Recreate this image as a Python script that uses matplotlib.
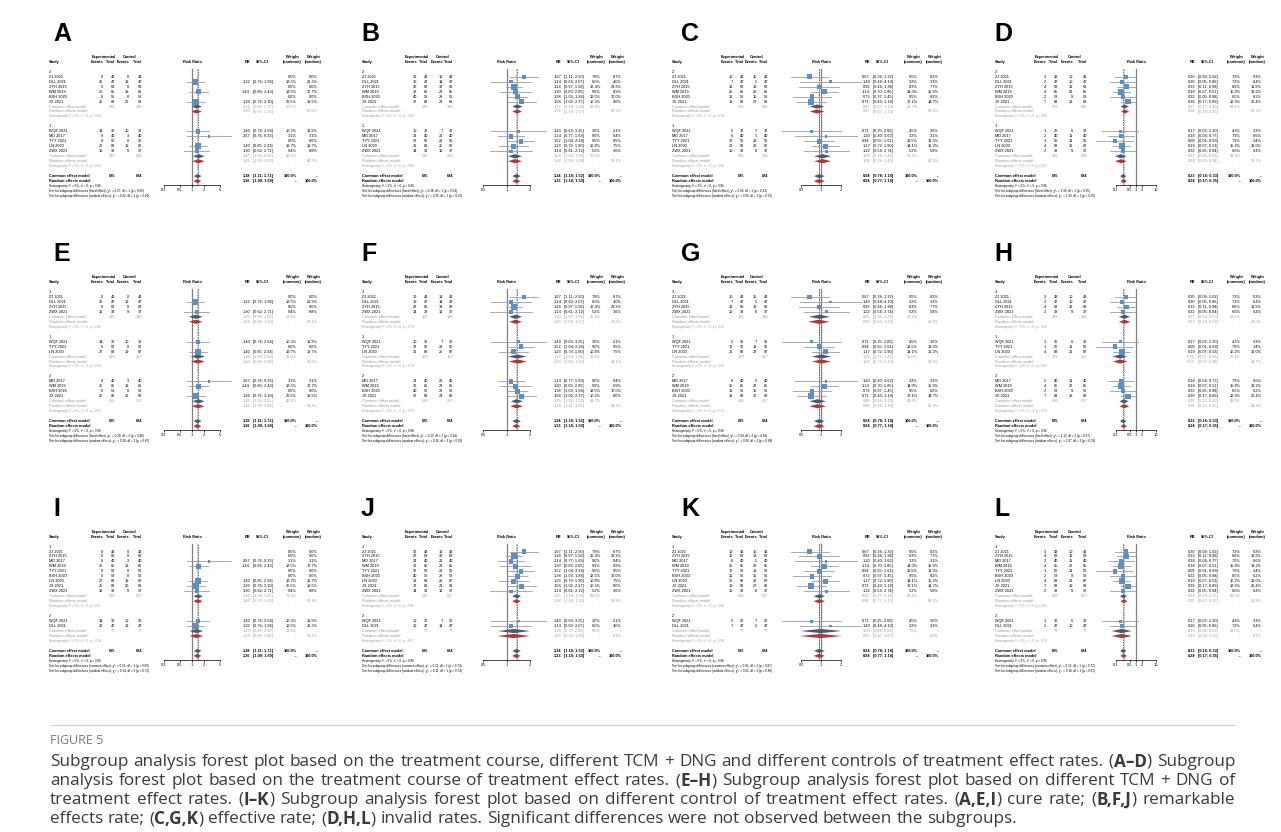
import matplotlib
matplotlib.use("Agg")
import matplotlib.pyplot as plt
import numpy as np
from matplotlib.ticker import NullLocator

plt.rcParams['font.family'] = ['Liberation Sans', 'DejaVu Sans']

# ------------------------------------------------------------------ data
studies = ["ZJ 2021", "DLL 2021", "ZYH 2015", "WM 2019", "BXH 2020", "JX 2021",
           "WQF 2021", "MD 2017", "TYY 2021", "LN 2020", "ZWX 2021"]
exp_total = [43, 47, 63, 85, 53, 88, 30, 40, 50, 88, 38]
ctrl_total = [43, 47, 63, 85, 53, 89, 30, 40, 50, 87, 37]

# cure rate
cure_exp = [0, 22, 0, 26, 0, 25, 14, 8, 0, 27, 12]
cure_ctrl = [0, 18, 0, 18, 0, 20, 10, 3, 0, 19, 9]
cure_rr = [None, 1.22, None, 1.44, None, 1.26, 1.40, 2.67, None, 1.40, 1.30]
cure_lo = [None, 0.76, None, 0.86, None, 0.76, 0.74, 0.76, None, 0.85, 0.62]
cure_hi = [None, 1.96, None, 2.43, None, 2.10, 2.64, 9.33, None, 2.33, 2.71]
cure_wc = [0.0, 18.5, 0.0, 18.5, 0.0, 20.5, 10.3, 3.1, 0.0, 19.7, 9.4]
cure_wr = [0.0, 21.3, 0.0, 17.7, 0.0, 18.5, 11.9, 3.1, 0.0, 18.7, 8.8]
cure_overall = [1.38, 1.11, 1.72, 1.36, 1.09, 1.69, "0.96"]

# remarkable effect rate
rem_exp = [30, 16, 47, 30, 40, 37, 10, 24, 32, 31, 14]
rem_ctrl = [18, 14, 38, 23, 29, 24, 7, 21, 21, 25, 12]
rem_rr = [1.67, 1.14, 1.24, 1.30, 1.38, 1.56, 1.43, 1.14, 1.52, 1.23, 1.14]
rem_lo = [1.11, 0.63, 0.97, 0.83, 1.03, 1.02, 0.63, 0.77, 1.04, 0.79, 0.61]
rem_hi = [2.50, 2.07, 1.58, 2.05, 1.84, 2.37, 3.25, 1.69, 2.24, 1.90, 2.12]
rem_wc = [7.8, 6.0, 16.4, 9.9, 12.5, 10.3, 3.0, 9.0, 9.0, 10.8, 5.2]
rem_wr = [8.7, 4.0, 23.3, 6.9, 17.0, 8.0, 2.1, 9.4, 9.5, 7.5, 3.6]
rem_overall = [1.34, 1.18, 1.52, 1.33, 1.18, 1.50, "0.88"]

# effective rate
eff_exp = [10, 7, 12, 25, 11, 19, 5, 6, 17, 26, 10]
eff_ctrl = [15, 5, 13, 22, 15, 27, 7, 5, 18, 22, 8]
eff_rr = [0.67, 1.40, 0.92, 1.14, 0.73, 0.71, 0.71, 1.20, 0.94, 1.17, 1.22]
eff_lo = [0.34, 0.48, 0.46, 0.70, 0.37, 0.43, 0.25, 0.40, 0.55, 0.72, 0.54]
eff_hi = [1.32, 4.10, 1.86, 1.85, 1.45, 1.18, 2.00, 3.62, 1.61, 1.90, 2.74]
eff_wc = [9.5, 3.2, 8.3, 14.0, 9.5, 17.1, 4.5, 3.2, 11.5, 14.1, 5.2]
eff_wr = [8.2, 3.3, 7.7, 15.9, 8.2, 14.7, 3.6, 3.1, 13.3, 16.2, 5.8]
eff_overall = [0.94, 0.78, 1.14, 0.94, 0.77, 1.14, "0.86"]

# invalid rate
inv_exp = [3, 2, 4, 4, 2, 7, 1, 2, 1, 4, 2]
inv_ctrl = [10, 10, 12, 22, 9, 18, 6, 11, 11, 21, 9]
inv_rr = [0.30, 0.20, 0.33, 0.18, 0.22, 0.39, 0.17, 0.18, 0.09, 0.19, 0.22]
inv_lo = [0.09, 0.05, 0.11, 0.07, 0.05, 0.17, 0.02, 0.04, 0.01, 0.07, 0.05]
inv_hi = [1.02, 0.86, 0.98, 0.51, 0.98, 0.89, 1.30, 0.77, 0.68, 0.53, 0.94]
inv_wc = [7.2, 7.2, 8.6, 15.8, 6.5, 12.9, 4.3, 7.9, 7.9, 15.2, 6.6]
inv_wr = [9.3, 6.4, 11.9, 13.2, 6.2, 20.4, 3.3, 6.6, 3.4, 13.0, 6.4]
inv_overall = [0.23, 0.16, 0.33, 0.24, 0.17, 0.35, "0.96"]

# subgroupings (study indices)
group_course = [("2", [0, 1, 2, 3, 4, 5]), ("1", [6, 7, 8, 9, 10])]
group_tcm = [("3", [0, 1, 2, 10]), ("1", [6, 8, 9]), ("2", [7, 3, 4, 5])]
group_control = [("1", [0, 2, 7, 3, 8, 4, 9, 5, 10]), ("2", [6, 1])]

# subgroup summaries: common rr, lo, hi, weight, random rr, lo, hi, weight, heterogeneity p
sub_A = [(1.31, 0.98, 1.75, 57.5, 1.30, 0.97, 1.74, 57.5, "0.89"),
         (1.47, 1.05, 2.05, 42.5, 1.45, 1.03, 2.03, 42.5, "0.89")]
sub_B = [(1.37, 1.18, 1.60, 62.8, 1.36, 1.18, 1.57, 67.9, "0.80"),
         (1.28, 1.04, 1.58, 37.2, 1.28, 1.04, 1.58, 32.1, "0.80")]
sub_C = [(0.87, 0.67, 1.13, 61.7, 0.87, 0.67, 1.13, 58.1, "0.54"),
         (1.06, 0.78, 1.43, 38.3, 1.06, 0.78, 1.43, 41.9, "0.90")]
sub_D = [(0.27, 0.17, 0.43, 58.1, 0.28, 0.18, 0.45, 67.3, "0.90"),
         (0.17, 0.09, 0.33, 41.9, 0.18, 0.09, 0.34, 32.7, "0.97")]
sub_E = [(1.25, 0.84, 1.85, 27.9, 1.24, 0.84, 1.83, 30.1, "0.88"),
         (1.40, 0.94, 2.09, 30.0, 1.40, 0.94, 2.08, 30.6, "0.99"),
         (1.45, 1.02, 2.05, 42.1, 1.42, 1.00, 2.02, 39.3, "0.59")]
sub_F = [(1.30, 1.07, 1.58, 35.4, 1.30, 1.08, 1.57, 39.6, "0.79"),
         (1.37, 1.04, 1.81, 22.9, 1.39, 1.06, 1.83, 19.1, "0.70"),
         (1.35, 1.13, 1.62, 41.7, 1.34, 1.11, 1.61, 41.3, "0.75")]
sub_G = [(0.95, 0.65, 1.38, 26.2, 0.93, 0.63, 1.36, 25.0, "0.59"),
         (1.02, 0.72, 1.43, 30.0, 1.02, 0.72, 1.43, 33.1, "0.64"),
         (0.89, 0.66, 1.20, 43.8, 0.89, 0.66, 1.20, 41.9, "0.51")]
sub_H = [(0.27, 0.14, 0.50, 29.6, 0.27, 0.14, 0.52, 34.0, "0.90"),
         (0.16, 0.07, 0.36, 27.4, 0.16, 0.07, 0.38, 19.7, "0.82"),
         (0.25, 0.15, 0.43, 43.0, 0.26, 0.15, 0.45, 46.4, "0.52")]
sub_I = [(1.42, 1.09, 1.85, 71.2, 1.40, 1.07, 1.83, 66.8, "0.87"),
         (1.29, 0.88, 1.89, 28.8, 1.29, 0.88, 1.89, 33.2, "0.74")]
sub_J = [(1.35, 1.18, 1.53, 91.0, 1.34, 1.18, 1.52, 93.9, "0.86"),
         (1.24, 0.77, 2.00, 9.0, 1.23, 0.76, 1.99, 6.1, "0.67")]
sub_K = [(0.94, 0.77, 1.14, 92.4, 0.94, 0.77, 1.15, 93.1, "0.80"),
         (1.00, 0.48, 2.08, 7.6, 0.99, 0.47, 2.07, 6.9, "0.38")]
sub_L = [(0.24, 0.16, 0.35, 88.5, 0.25, 0.17, 0.37, 90.3, "0.91"),
         (0.19, 0.06, 0.62, 11.5, 0.19, 0.06, 0.62, 9.7, "0.59")]

# tests for subgroup differences: chi2 common, p, chi2 random, p
test_A = ["0.27", "0.60", "0.22", "0.64"]
test_B = ["0.38", "0.54", "0.35", "0.55"]
test_C = ["0.96", "0.33", "0.96", "0.33"]
test_D = ["1.30", "0.25", "1.30", "0.25"]
test_E = ["0.30", "0.86", "0.28", "0.87"]
test_F = ["0.13", "0.94", "0.16", "0.92"]
test_G = ["0.34", "0.84", "0.36", "0.84"]
test_H = ["1.13", "0.57", "1.07", "0.59"]
test_I = ["0.16", "0.69", "0.14", "0.71"]
test_J = ["0.11", "0.74", "0.11", "0.74"]
test_K = ["0.02", "0.87", "0.02", "0.88"]
test_L = ["0.12", "0.72", "0.18", "0.67"]

axis_ticks = {"cure": [0.2, 0.5, 1, 2, 5], "rem": [0.5, 1, 2],
              "eff": [0.5, 1, 2], "inv": [0.1, 0.5, 1, 2, 10]}

outcomes = {
    "cure": (cure_exp, cure_ctrl, cure_rr, cure_lo, cure_hi, cure_wc, cure_wr, cure_overall),
    "rem": (rem_exp, rem_ctrl, rem_rr, rem_lo, rem_hi, rem_wc, rem_wr, rem_overall),
    "eff": (eff_exp, eff_ctrl, eff_rr, eff_lo, eff_hi, eff_wc, eff_wr, eff_overall),
    "inv": (inv_exp, inv_ctrl, inv_rr, inv_lo, inv_hi, inv_wc, inv_wr, inv_overall),
}

panels = [
    ("A", 0, 0, "cure", group_course, sub_A, test_A, "fixed effect"),
    ("B", 1, 0, "rem", group_course, sub_B, test_B, "fixed effect"),
    ("C", 2, 0, "eff", group_course, sub_C, test_C, "fixed effect"),
    ("D", 3, 0, "inv", group_course, sub_D, test_D, "fixed effect"),
    ("E", 0, 1, "cure", group_tcm, sub_E, test_E, "fixed effect"),
    ("F", 1, 1, "rem", group_tcm, sub_F, test_F, "fixed effect"),
    ("G", 2, 1, "eff", group_tcm, sub_G, test_G, "fixed effect"),
    ("H", 3, 1, "inv", group_tcm, sub_H, test_H, "fixed effect"),
    ("I", 0, 2, "cure", group_control, sub_I, test_I, "common effect"),
    ("J", 1, 2, "rem", group_control, sub_J, test_J, "common effect"),
    ("K", 2, 2, "eff", group_control, sub_K, test_K, "common effect"),
    ("L", 3, 2, "inv", group_control, sub_L, test_L, "common effect"),
]

# ------------------------------------------------------------------ layout
W, H = 1281, 832
FS = 2.8
FS2 = 2.15
GREY = '#9a9a9a'
BLUE = '#5b8fc6'
CI_C = '#9c9c9c'
COM_C = '#4a5872'
RAN_C = '#b3352f'

STUDY_X = [49, 362, 672, 995]
EV_E = [103, 417, 733, 1046]
TOT_E = [115, 428, 744, 1058]
EV_C = [129, 443, 757, 1073]
TOT_C = [142, 453, 768, 1087]
REF_X = [192, 506.7, 821, 1136]
SCALE = [17.5, 33.7, 28.2, 8.69]
RR_R = [250, 561.5, 870, 1195]
CI_L = [253, 564, 873, 1198]
WC_R = [297, 601, 918, 1241]
WR_R = [318, 622, 939, 1262]
Y_STUDY = [61.8, 282.0, 536.6]
RS = 4.97
LET_X = [53.5, 361, 681.5, 994.5]
LET_Y = [41, 261, 516]

fig = plt.figure(figsize=(W / 100, H / 100), dpi=100)
axT = fig.add_axes([0, 0, 1, 1])
axT.set_xlim(0, W)
axT.set_ylim(H, 0)
axT.axis('off')


def txt(x, y, s, ha='left', color='black', bold=False, fs=FS):
    axT.text(x, y, s, ha=ha, va='center', fontsize=fs, color=color,
             fontweight='bold' if bold else 'normal')


def ci_str(lo, hi):
    return "[%.2f; %.2f]" % (lo, hi)


def diamond(ax, rr, lo, hi, row, color):
    ax.fill([lo, rr, hi, rr], [row, row - 0.42, row, row + 0.42], color=color,
            lw=0, clip_on=False, zorder=4)


SUBS = {1: "\u2081", 2: "\u2082"}


def draw_panel(letter, col, rowi, okey, grouping, subs, tests, test_kind):
    ev_e, ev_c, rr, lo, hi, wc, wr, overall = outcomes[okey]
    y0 = Y_STUDY[rowi]

    def Y(r):
        return y0 + r * RS

    sx = STUDY_X[col]
    ngroups = len(grouping)
    nrows = 2 + sum(len(idx) + 5 for _, idx in grouping)
    over_row = nrows
    axis_row = over_row + 1.8

    # letter
    axT.text(LET_X[col], LET_Y[rowi], letter, fontsize=18, fontweight='bold',
             ha='left', va='baseline', family=['Liberation Sans', 'DejaVu Sans'])

    # headers
    txt((EV_E[col] - 11 + TOT_E[col]) / 2, Y(-1), "Experimental", ha='center', bold=True)
    txt((EV_C[col] - 11 + TOT_C[col]) / 2, Y(-1), "Control", ha='center', bold=True)
    txt(WC_R[col] - 5, Y(-1), "Weight", ha='center', bold=True)
    txt(WR_R[col] - 5, Y(-1), "Weight", ha='center', bold=True)
    txt(sx, Y(0), "Study", bold=True)
    txt(EV_E[col], Y(0), "Events", ha='right', bold=True)
    txt(TOT_E[col], Y(0), "Total", ha='right', bold=True)
    txt(EV_C[col], Y(0), "Events", ha='right', bold=True)
    txt(TOT_C[col], Y(0), "Total", ha='right', bold=True)
    txt(REF_X[col], Y(0), "Risk Ratio", ha='center', bold=True)
    txt(RR_R[col], Y(0), "RR", ha='right', bold=True)
    txt(CI_L[col] + 9, Y(0), "95%-CI", ha='center', bold=True)
    txt(WC_R[col] - 5, Y(0), "(common)", ha='center', bold=True)
    txt(WR_R[col] - 5, Y(0), "(random)", ha='center', bold=True)

    # forest axes
    tk = axis_ticks[okey]
    xl = REF_X[col] + SCALE[col] * np.log(tk[0])
    xr = REF_X[col] + SCALE[col] * np.log(tk[-1])
    ytop, ybot = Y(1.0), Y(axis_row)
    ax = fig.add_axes([xl / W, 1 - ybot / H, (xr - xl) / W, (ybot - ytop) / H])
    ax.set_xscale('log')
    ax.set_xlim(tk[0], tk[-1])
    ax.set_ylim(axis_row, 1.0)
    ax.patch.set_alpha(0)
    for s in ['top', 'right', 'left']:
        ax.spines[s].set_visible(False)
    ax.spines['bottom'].set_linewidth(0.5)
    ax.set_xticks(tk)
    ax.set_xticklabels(['%g' % t for t in tk])
    ax.xaxis.set_minor_locator(NullLocator())
    ax.tick_params(axis='x', labelsize=FS, length=1.3, width=0.5, pad=0.8)
    ax.set_yticks([])

    ax.plot([1, 1], [1.5, axis_row], color='#808080', lw=0.9, clip_on=False, zorder=1)
    ax.plot([overall[0]] * 2, [1.5, axis_row], color='#222222', lw=0.45,
            ls=(0, (2.5, 1.5)), clip_on=False, zorder=2)
    ax.plot([overall[3]] * 2, [1.5, axis_row], color='#222222', lw=0.45,
            ls=(0, (0.6, 1.2)), clip_on=False, zorder=2)

    wmax = max(wc)
    r = 2
    for gi, (glabel, idx) in enumerate(grouping):
        txt(sx, Y(r), glabel)
        r += 1
        for i in idx:
            y = Y(r)
            txt(sx, y, studies[i])
            txt(EV_E[col], y, str(ev_e[i]), ha='right')
            txt(TOT_E[col], y, str(exp_total[i]), ha='right')
            txt(EV_C[col], y, str(ev_c[i]), ha='right')
            txt(TOT_C[col], y, str(ctrl_total[i]), ha='right')
            if rr[i] is not None:
                txt(RR_R[col], y, "%.2f" % rr[i], ha='right')
                txt(CI_L[col], y, ci_str(lo[i], hi[i]))
                ax.plot([lo[i], hi[i]], [r, r], color=CI_C, lw=0.6, clip_on=False, zorder=3)
                side = 6.0 * np.sqrt(wc[i] / wmax) * 0.72
                ax.scatter([rr[i]], [r], marker='s', s=side ** 2, color=BLUE,
                           edgecolors='none', clip_on=False, zorder=5)
            txt(WC_R[col], y, "%.1f%%" % wc[i], ha='right')
            txt(WR_R[col], y, "%.1f%%" % wr[i], ha='right')
            r += 1
        s = subs[gi]
        y = Y(r)
        txt(sx, y, "Common effect model", color=GREY)
        txt(TOT_E[col], y, str(sum(exp_total[i] for i in idx)), ha='right', color=GREY)
        txt(TOT_C[col], y, str(sum(ctrl_total[i] for i in idx)), ha='right', color=GREY)
        txt(RR_R[col], y, "%.2f" % s[0], ha='right', color=GREY)
        txt(CI_L[col], y, ci_str(s[1], s[2]), color=GREY)
        txt(WC_R[col], y, "%.1f%%" % s[3], ha='right', color=GREY)
        txt(WR_R[col], y, "--", ha='right', color=GREY)
        diamond(ax, s[0], s[1], s[2], r, COM_C)
        r += 1
        y = Y(r)
        txt(sx, y, "Random effects model", color=GREY)
        txt(RR_R[col], y, "%.2f" % s[4], ha='right', color=GREY)
        txt(CI_L[col], y, ci_str(s[5], s[6]), color=GREY)
        txt(WC_R[col], y, "--", ha='right', color=GREY)
        txt(WR_R[col], y, "%.1f%%" % s[7], ha='right', color=GREY)
        diamond(ax, s[4], s[5], s[6], r, RAN_C)
        r += 1
        txt(sx, Y(r), "Heterogeneity: I\u00b2 = 0%, \u03c4\u00b2 = 0, p = " + s[8],
            color=GREY, fs=FS2)
        r += 2

    # overall
    y = Y(r)
    txt(sx, y, "Common effect model", bold=True)
    txt(TOT_E[col], y, str(sum(exp_total)), ha='right', bold=True)
    txt(TOT_C[col], y, str(sum(ctrl_total)), ha='right', bold=True)
    txt(RR_R[col], y, "%.2f" % overall[0], ha='right', bold=True)
    txt(CI_L[col], y, ci_str(overall[1], overall[2]), bold=True)
    txt(WC_R[col], y, "100.0%", ha='right', bold=True)
    txt(WR_R[col], y, "--", ha='right', bold=True)
    diamond(ax, overall[0], overall[1], overall[2], r, COM_C)
    y = Y(r + 1)
    txt(sx, y, "Random effects model", bold=True)
    txt(RR_R[col], y, "%.2f" % overall[3], ha='right', bold=True)
    txt(CI_L[col], y, ci_str(overall[4], overall[5]), bold=True)
    txt(WC_R[col], y, "--", ha='right', bold=True)
    txt(WR_R[col], y, "100.0%", ha='right', bold=True)
    diamond(ax, overall[3], overall[4], overall[5], r + 1, RAN_C)
    txt(sx, Y(r + 2), "Heterogeneity: I\u00b2 = 0%, \u03c4\u00b2 = 0, p = " + overall[6], fs=FS2)
    df = ngroups - 1
    txt(sx, Y(r + 3), "Test for subgroup differences (%s): \u03c7\u00b2%s = %s, df = %d (p = %s)"
        % (test_kind, SUBS[df], tests[0], df, tests[1]), fs=FS2)
    txt(sx, Y(r + 4), "Test for subgroup differences (random effects): \u03c7\u00b2%s = %s, df = %d (p = %s)"
        % (SUBS[df], tests[2], df, tests[3]), fs=FS2)


for p in panels:
    draw_panel(*p)

# ------------------------------------------------------------------ caption
axT.plot([50, 1235], [725, 725], color='#cfcfcf', lw=0.8)
axT.text(50, 741, "FIGURE 5", fontsize=9, color='#7a7a7a', va='center', ha='left',
         family=['Open Sans', 'DejaVu Sans'])

cap_lines = [
    [("Subgroup analysis forest plot based on the treatment course, different TCM + DNG and different controls of treatment effect rates. (", 0), ("A–D", 1), (") Subgroup", 0)],
    [("analysis forest plot based on the treatment course of treatment effect rates. (", 0), ("E–H", 1), (") Subgroup analysis forest plot based on different TCM + DNG of", 0)],
    [("treatment effect rates. (", 0), ("I–K", 1), (") Subgroup analysis forest plot based on different control of treatment effect rates. (", 0), ("A,E,I", 1), (") cure rate; (", 0), ("B,F,J", 1), (") remarkable", 0)],
    [("effects rate; (", 0), ("C,G,K", 1), (") effective rate; (", 0), ("D,H,L", 1), (") invalid rates. Significant differences were not observed between the subgroups.", 0)],
]
cap_y = [762, 781, 800, 819]
CAP_FAM = ['Open Sans', 'DejaVu Sans']
CAP_COL = '#3a3a3a'
renderer = fig.canvas.get_renderer()


def width_of(s, bold, fs):
    t = axT.text(0, 0, s, fontsize=fs, fontweight='bold' if bold else 'normal', family=CAP_FAM)
    w = t.get_window_extent(renderer=renderer).width
    t.remove()
    return w


def words_of(segs):
    words = [[]]
    for text, b in segs:
        parts = text.split(' ')
        for k, piece in enumerate(parts):
            if k > 0:
                words.append([])
            if piece:
                words[-1].append((piece, b))
    return [w for w in words if w]


def natural_width(segs, fs):
    ws = words_of(segs)
    sp = width_of("a a", 0, fs) - width_of("aa", 0, fs)
    return sum(width_of(p, b, fs) for w in ws for p, b in w) + sp * (len(ws) - 1)


x_left, x_right = 50, 1235
base = 10.0
CAP_FS = base * (x_right - x_left - 12) / max(natural_width(l, base) for l in cap_lines[:-1])
space_w = width_of("a a", 0, CAP_FS) - width_of("aa", 0, CAP_FS)

for li, segs in enumerate(cap_lines):
    words = words_of(segs)
    widths = [[width_of(p, b, CAP_FS) for p, b in w] for w in words]
    total = sum(sum(w) for w in widths)
    if li < len(cap_lines) - 1:
        gap = (x_right - x_left - total) / (len(words) - 1)
    else:
        gap = space_w
    x = x_left
    for w, ws in zip(words, widths):
        for (p, b), pw in zip(w, ws):
            axT.text(x, cap_y[li], p, fontsize=CAP_FS, fontweight='bold' if b else 'normal',
                     family=CAP_FAM, color=CAP_COL, va='center', ha='left')
            x += pw
        x += gap

fig.savefig("out.png", dpi=100)
